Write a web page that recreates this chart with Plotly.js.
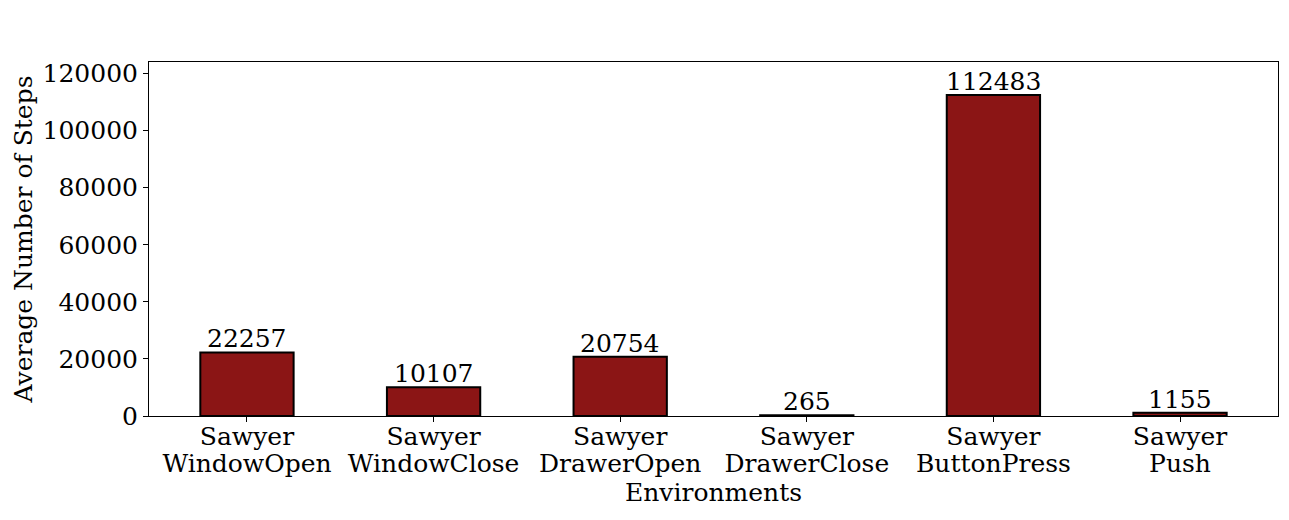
<!DOCTYPE html>
<html>
<head>
<meta charset="utf-8">
<script src="https://cdn.plot.ly/plotly-3.0.1.min.js"></script>
<style>
  html, body { margin: 0; padding: 0; background: #fff; }
  #plotArea { width: 1289px; height: 520px; }
</style>
</head>
<body>
<div id="plotArea"></div>
<script>
// environments (two-line labels) and their average step counts
var envLine1 = ["Sawyer", "Sawyer", "Sawyer", "Sawyer", "Sawyer", "Sawyer"];
var envLine2 = ["WindowOpen", "WindowClose", "DrawerOpen", "DrawerClose", "ButtonPress", "Push"];
var avgSteps = [22257, 10107, 20754, 265, 112483, 1155];
var yTicks = [0, 20000, 40000, 60000, 80000, 100000, 120000];

var positions = envLine1.map(function (d, i) { return i; });
var font = {family: "DejaVu Serif, serif", size: 25, color: "#000"};

var trace = {
    x: positions,
    y: avgSteps,
    type: "bar",
    width: 0.5,
    marker: {color: "#8b1515", line: {color: "#000", width: 2}},
    hoverinfo: "y"
};

// empty trace so the second x axis (second label line) gets drawn
var labelTrace = {
    x: positions,
    y: positions.map(function () { return null; }),
    xaxis: "x2",
    type: "scatter",
    mode: "markers",
    hoverinfo: "skip"
};

// value labels sitting right on top of each bar
var valueLabels = avgSteps.map(function (v, i) {
    return {
        x: positions[i], y: v, xref: "x", yref: "y",
        text: String(v), showarrow: false,
        xanchor: "center", yanchor: "bottom", yshift: -3,
        font: font
    };
});

var layout = {
    width: 1289,
    height: 520,
    margin: {l: 149, r: 11, t: 62, b: 104},
    paper_bgcolor: "#fff",
    plot_bgcolor: "#fff",
    font: font,
    showlegend: false,
    annotations: valueLabels,
    xaxis: {
        range: [-0.525, 5.525],
        tickmode: "array",
        tickvals: positions,
        ticktext: envLine1,
        ticks: "outside",
        ticklen: 5,
        tickcolor: "#000",
        ticklabelstandoff: -7,
        showline: true,
        linecolor: "#000",
        linewidth: 1,
        mirror: true,
        showgrid: false,
        zeroline: false,
        tickfont: font
    },
    xaxis2: {
        overlaying: "x",
        anchor: "y",
        side: "bottom",
        range: [-0.525, 5.525],
        tickmode: "array",
        tickvals: positions,
        ticktext: envLine2,
        ticks: "",
        ticklabelstandoff: 30,
        showline: false,
        showgrid: false,
        zeroline: false,
        tickfont: font,
        title: {text: "Environments", font: font, standoff: 0}
    },
    yaxis: {
        range: [0, 124040],
        tickmode: "array",
        tickvals: yTicks,
        ticktext: yTicks.map(String),
        ticks: "outside",
        ticklen: 5,
        tickcolor: "#000",
        showline: true,
        linecolor: "#000",
        linewidth: 1,
        mirror: true,
        showgrid: false,
        zeroline: false,
        tickfont: font,
        title: {text: "Average Number of Steps", font: font, standoff: 2}
    }
};

Plotly.newPlot("plotArea", [trace, labelTrace], layout, {displayModeBar: false, staticPlot: true});
</script>
</body>
</html>
